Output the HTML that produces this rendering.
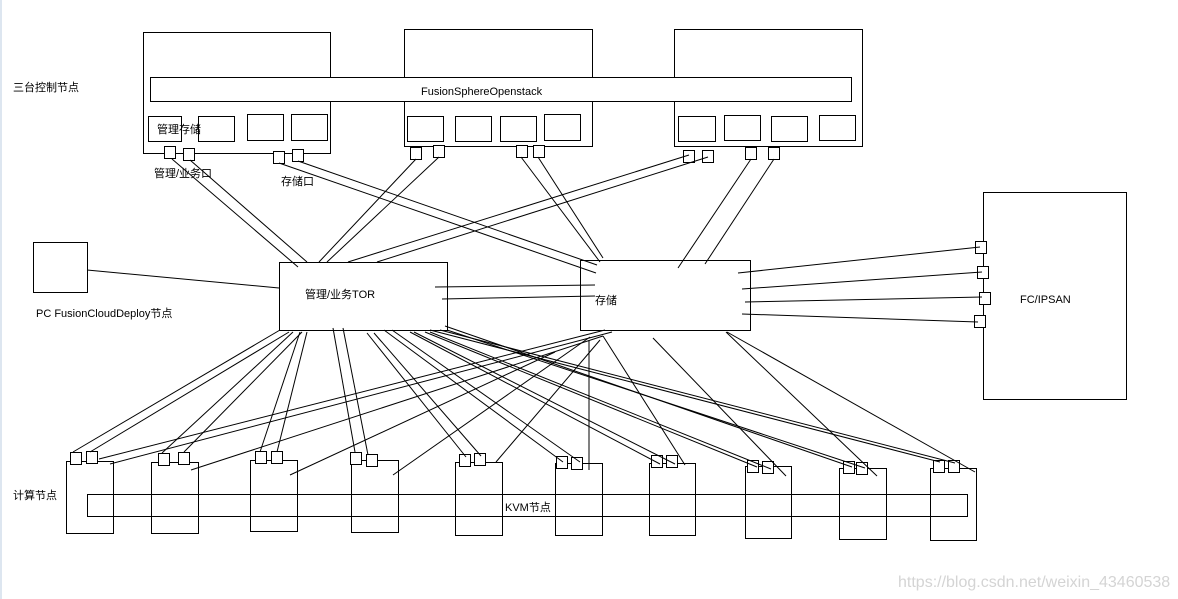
<!DOCTYPE html>
<html><head><meta charset="utf-8"><style>
html,body{margin:0;padding:0;background:#fff;}
body{width:1178px;height:599px;overflow:hidden;position:relative;}
svg{position:absolute;left:0;top:0;}
text{font-family:"Liberation Sans","Noto Sans CJK SC",sans-serif;font-size:11px;fill:#000;}
</style></head><body>
<svg width="1178" height="599" viewBox="0 0 1178 599">
<rect x="0" y="0" width="2" height="599" fill="#dde6f0"/>
<g fill="none" stroke="#000" stroke-width="1" shape-rendering="crispEdges">
<rect x="143.5" y="32.5" width="187" height="121"/>
<rect x="404.5" y="29.5" width="188" height="117"/>
<rect x="674.5" y="29.5" width="188" height="117"/>
<rect x="150.5" y="77.5" width="701" height="24" fill="#fff"/>
<rect x="148.5" y="116.5" width="33" height="25"/><rect x="198.5" y="116.5" width="36" height="25"/>
<rect x="247.5" y="114.5" width="36" height="26"/><rect x="291.5" y="114.5" width="36" height="26"/>
<rect x="407.5" y="116.5" width="36" height="25"/><rect x="455.5" y="116.5" width="36" height="25"/>
<rect x="500.5" y="116.5" width="36" height="25"/><rect x="544.5" y="114.5" width="36" height="26"/>
<rect x="678.5" y="116.5" width="37" height="25"/><rect x="724.5" y="115.5" width="36" height="25"/>
<rect x="771.5" y="116.5" width="36" height="25"/><rect x="819.5" y="115.5" width="36" height="25"/>
<g fill="#fff">
<rect x="164.5" y="146.5" width="11" height="12"/><rect x="183.5" y="148.5" width="11" height="12"/>
<rect x="273.5" y="151.5" width="11" height="12"/><rect x="292.5" y="149.5" width="11" height="12"/>
<rect x="410.5" y="147.5" width="11" height="12"/><rect x="433.5" y="145.5" width="11" height="12"/>
<rect x="516.5" y="145.5" width="11" height="12"/><rect x="533.5" y="145.5" width="11" height="12"/>
<rect x="683.5" y="150.5" width="11" height="12"/><rect x="702.5" y="150.5" width="11" height="12"/>
<rect x="745.5" y="147.5" width="11" height="12"/><rect x="768.5" y="147.5" width="11" height="12"/>
</g>
<rect x="33.5" y="242.5" width="54" height="50"/>
<rect x="279.5" y="262.5" width="168" height="68"/>
<rect x="580.5" y="260.5" width="170" height="70"/>
<rect x="983.5" y="192.5" width="143" height="207"/>
<g fill="#fff">
<rect x="975.5" y="241.5" width="11" height="12"/><rect x="977.5" y="266.5" width="11" height="12"/>
<rect x="979.5" y="292.5" width="11" height="12"/><rect x="974.5" y="315.5" width="11" height="12"/>
</g>
<rect x="66.5" y="461.5" width="47" height="72"/>
<rect x="151.5" y="462.5" width="47" height="71"/>
<rect x="250.5" y="460.5" width="47" height="71"/>
<rect x="351.5" y="460.5" width="47" height="72"/>
<rect x="455.5" y="462.5" width="47" height="73"/>
<rect x="555.5" y="463.5" width="47" height="72"/>
<rect x="649.5" y="463.5" width="46" height="72"/>
<rect x="745.5" y="466.5" width="46" height="72"/>
<rect x="839.5" y="468.5" width="47" height="71"/>
<rect x="930.5" y="468.5" width="46" height="72"/>
<rect x="87.5" y="494.5" width="880" height="22"/>
<g fill="#fff">
<rect x="70.5" y="452.5" width="11" height="12"/><rect x="86.5" y="451.5" width="11" height="12"/>
<rect x="158.5" y="453.5" width="11" height="12"/><rect x="178.5" y="452.5" width="11" height="12"/>
<rect x="255.5" y="451.5" width="11" height="12"/><rect x="271.5" y="451.5" width="11" height="12"/>
<rect x="350.5" y="452.5" width="11" height="12"/><rect x="366.5" y="454.5" width="11" height="12"/>
<rect x="459.5" y="454.5" width="11" height="12"/><rect x="474.5" y="453.5" width="11" height="12"/>
<rect x="556.5" y="456.5" width="11" height="12"/><rect x="571.5" y="457.5" width="11" height="12"/>
<rect x="651.5" y="455.5" width="11" height="12"/><rect x="666.5" y="455.5" width="11" height="12"/>
<rect x="747.5" y="460.5" width="11" height="12"/><rect x="762.5" y="461.5" width="11" height="12"/>
<rect x="843.5" y="461.5" width="11" height="12"/><rect x="856.5" y="462.5" width="11" height="12"/>
<rect x="933.5" y="460.5" width="11" height="12"/><rect x="948.5" y="460.5" width="11" height="12"/>
</g>
</g>
<g stroke="#000" stroke-width="1" fill="none">
<line x1="172" y1="159" x2="298" y2="267"/><line x1="190" y1="160" x2="307" y2="262"/>
<line x1="279" y1="163" x2="596" y2="273"/><line x1="298" y1="161" x2="597" y2="265"/>
<line x1="416" y1="159" x2="319" y2="262"/><line x1="439" y1="157" x2="327" y2="262"/>
<line x1="521" y1="157" x2="600" y2="262"/><line x1="538" y1="157" x2="603" y2="258"/>
<line x1="689" y1="155" x2="348" y2="262"/><line x1="708" y1="157" x2="377" y2="262"/>
<line x1="751" y1="159" x2="678" y2="268"/><line x1="774" y1="159" x2="705" y2="264"/>
<line x1="87" y1="270" x2="279" y2="288"/>
<line x1="435" y1="287" x2="595" y2="285"/><line x1="442" y1="299" x2="595" y2="296"/>
<line x1="738" y1="273" x2="980" y2="247"/><line x1="742" y1="289" x2="982" y2="272"/>
<line x1="745" y1="302" x2="982" y2="297"/><line x1="742" y1="314" x2="978" y2="322"/>
<line x1="280" y1="330" x2="73" y2="452"/><line x1="289" y1="332" x2="90" y2="452"/>
<line x1="293" y1="332" x2="162" y2="453"/><line x1="302" y1="332" x2="184" y2="452"/>
<line x1="300" y1="332" x2="260" y2="452"/><line x1="307" y1="332" x2="277" y2="452"/>
<line x1="333" y1="328" x2="355" y2="452"/><line x1="343" y1="328" x2="368" y2="455"/>
<line x1="367" y1="333" x2="466" y2="457"/><line x1="374" y1="333" x2="481" y2="456"/>
<line x1="384" y1="330" x2="563" y2="462"/><line x1="392" y1="330" x2="580" y2="462"/>
<line x1="410" y1="332" x2="660" y2="464"/><line x1="414" y1="332" x2="675" y2="464"/>
<line x1="425" y1="332" x2="757" y2="467"/><line x1="430" y1="332" x2="771" y2="469"/>
<line x1="445" y1="326" x2="852" y2="467"/><line x1="447" y1="330" x2="865" y2="468"/>
<line x1="430" y1="330" x2="940" y2="462"/><line x1="440" y1="330" x2="955" y2="463"/>
<line x1="605" y1="330" x2="99" y2="459"/><line x1="612" y1="332" x2="110" y2="464"/>
<line x1="603" y1="336" x2="191" y2="470"/><line x1="555" y1="352" x2="290" y2="475"/>
<line x1="590" y1="337" x2="393" y2="475"/><line x1="600" y1="340" x2="496" y2="462"/>
<line x1="589" y1="340" x2="589" y2="470"/><line x1="603" y1="336" x2="685" y2="465"/>
<line x1="653" y1="338" x2="786" y2="476"/><line x1="726" y1="332" x2="877" y2="476"/>
<line x1="727" y1="332" x2="975" y2="472"/>
</g>
<text x="13" y="91">三台控制节点</text>
<text x="421" y="95">FusionSphereOpenstack</text>
<text x="157" y="133">管理存储</text>
<text x="154" y="177">管理/业务口</text>
<text x="281" y="185">存储口</text>
<text x="36" y="317">PC  FusionCloudDeploy节点</text>
<text x="305" y="298">管理/业务TOR</text>
<text x="595" y="304">存储</text>
<text x="1020" y="303">FC/IPSAN</text>
<text x="13" y="499">计算节点</text>
<text x="505" y="511">KVM节点</text>
<text x="898" y="587" style="font-size:16px;fill:#d4d4d4">https://blog.csdn.net/weixin_43460538</text>
</svg>
</body></html>
